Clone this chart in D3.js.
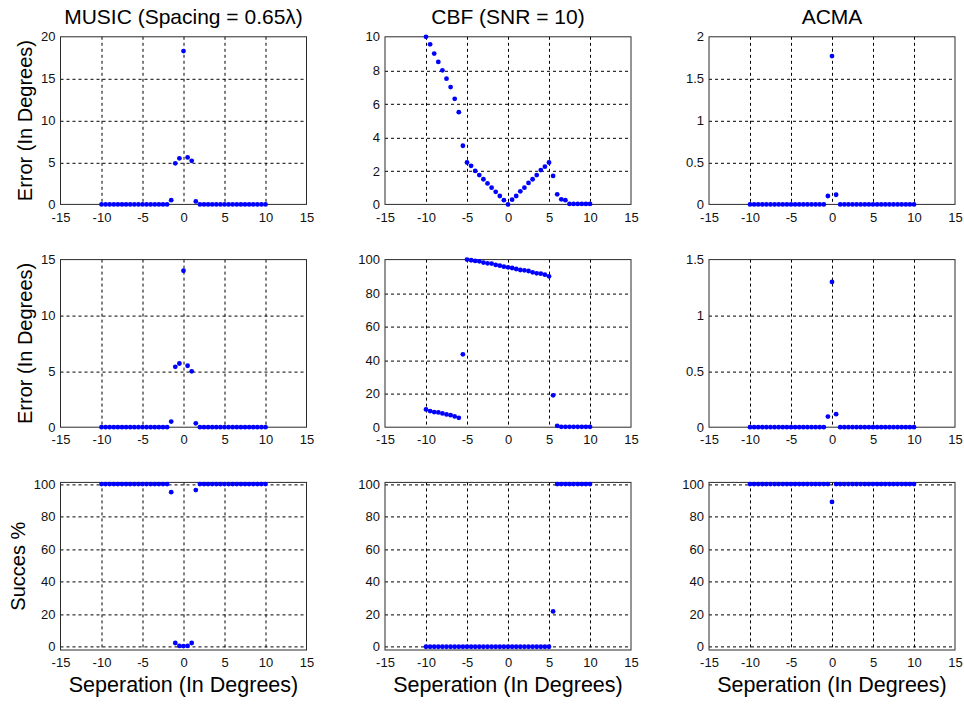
<!DOCTYPE html>
<html>
<head>
<meta charset="utf-8">
<script src="https://cdn.jsdelivr.net/npm/d3@7"></script>
<style>
  html, body { margin: 0; padding: 0; background: #ffffff; }
  svg { display: block; font-family: "Liberation Sans", Arial, Helvetica, sans-serif; }
</style>
</head>
<body>
<svg id="chart" width="964" height="704"></svg>
<script>
// ---------------- DATA ----------------
const separation = [-10, -9.5, -9, -8.5, -8, -7.5, -7, -6.5, -6, -5.5, -5, -4.5, -4, -3.5, -3, -2.5, -2, -1.5, -1, -0.5,
  0, 0.5, 1, 1.5, 2, 2.5, 3, 3.5, 4, 4.5, 5, 5.5, 6, 6.5, 7, 7.5, 8, 8.5, 9, 9.5, 10];

const musicError1 = [0,0,0,0,0,0,0,0,0,0,0,0,0,0,0,0,0, 0.5, 4.9, 5.5, 18.3, 5.6, 5.2, 0.35, 0,0,0,0,0,0,0,0,0,0,0,0,0,0,0,0,0];
const musicError2 = [0,0,0,0,0,0,0,0,0,0,0,0,0,0,0,0,0, 0.5, 5.4, 5.7, 14.0, 5.5, 5.0, 0.35, 0,0,0,0,0,0,0,0,0,0,0,0,0,0,0,0,0];
const musicSuccess = [100,100,100,100,100,100,100,100,100,100,100,100,100,100,100,100,100, 95, 2.3, 0.5, 0.4, 0.5, 2.3, 96.3,
  100,100,100,100,100,100,100,100,100,100,100,100,100,100,100,100,100];

const cbfError1 = [10.0, 9.55, 9.0, 8.5, 8.0, 7.5, 7.0, 6.3, 5.5, 3.5, 2.5, 2.3, 2.0, 1.75, 1.5, 1.25, 1.0, 0.75, 0.5, 0.25,
  0.0, 0.28, 0.5, 0.78, 1.0, 1.28, 1.5, 1.75, 2.05, 2.25, 2.5, 1.7, 0.6, 0.3, 0.25, 0.03, 0.03, 0.03, 0.03, 0.03, 0.03];
const cbfError2 = [10.6, 9.6, 9.0, 8.8, 8.2, 7.6, 7.2, 6.4, 5.6, 43.5, 100, 99.6, 99.2, 99.0, 98.2, 97.8, 97.6, 96.8, 96.4, 95.8,
  95.4, 95.0, 94.4, 93.8, 93.6, 93.2, 92.4, 91.8, 91.6, 91.0, 90.0, 19.0, 0.8, 0.2, 0.2, 0.2, 0.2, 0.2, 0.2, 0.2, 0.2];
const cbfSuccess = [0,0,0,0,0,0,0,0,0,0,0,0,0,0,0,0,0,0,0,0,0,0,0,0,0,0,0,0,0,0,0, 21.7,
  100,100,100,100,100,100,100,100,100];

const acmaError1 = [0,0,0,0,0,0,0,0,0,0,0,0,0,0,0,0,0,0,0, 0.1, 1.77, 0.115, 0,0,0,0,0,0,0,0,0,0,0,0,0,0,0,0,0,0,0];
const acmaError2 = [0,0,0,0,0,0,0,0,0,0,0,0,0,0,0,0,0,0,0, 0.095, 1.3, 0.117, 0,0,0,0,0,0,0,0,0,0,0,0,0,0,0,0,0,0,0];
const acmaSuccess = [100,100,100,100,100,100,100,100,100,100,100,100,100,100,100,100,100,100,100,100, 89,
  100,100,100,100,100,100,100,100,100,100,100,100,100,100,100,100,100,100,100,100];

const xTicks = [-15, -10, -5, 0, 5, 10, 15];
const xTickLabels = ["-15", "-10", "-5", "0", "5", "10", "15"];

const yTicksMusic1 = [0, 5, 10, 15, 20];
const yLabelsMusic1 = ["0", "5", "10", "15", "20"];
const yTicksMusic2 = [0, 5, 10, 15];
const yLabelsMusic2 = ["0", "5", "10", "15"];
const yTicksCbf1 = [0, 2, 4, 6, 8, 10];
const yLabelsCbf1 = ["0", "2", "4", "6", "8", "10"];
const yTicksPct = [0, 20, 40, 60, 80, 100];
const yLabelsPct = ["0", "20", "40", "60", "80", "100"];
const yTicksAcma1 = [0, 0.5, 1, 1.5, 2];
const yLabelsAcma1 = ["0", "0.5", "1", "1.5", "2"];
const yTicksAcma2 = [0, 0.5, 1, 1.5];
const yLabelsAcma2 = ["0", "0.5", "1", "1.5"];

const columnTitles = ["MUSIC (Spacing = 0.65\u03BB)", "CBF (SNR = 10)", "ACMA"];
const rowYLabels = ["Error (In Degrees)", "Error (In Degrees)", "Succes %"];
const xAxisLabel = "Seperation (In Degrees)";

// ---------------- LAYOUT ----------------
const colLeft = [60.5, 385, 709];
const rowTop = [36.8, 259.6, 482.4];
const plotW = 246;
const plotH = 167.6;

const panels = [
  { row: 0, col: 0, values: musicError1, domain: [0, 20], ticks: yTicksMusic1, labels: yLabelsMusic1 },
  { row: 0, col: 1, values: cbfError1, domain: [0, 10], ticks: yTicksCbf1, labels: yLabelsCbf1 },
  { row: 0, col: 2, values: acmaError1, domain: [0, 2], ticks: yTicksAcma1, labels: yLabelsAcma1 },
  { row: 1, col: 0, values: musicError2, domain: [0, 15], ticks: yTicksMusic2, labels: yLabelsMusic2 },
  { row: 1, col: 1, values: cbfError2, domain: [0, 100], ticks: yTicksPct, labels: yLabelsPct },
  { row: 1, col: 2, values: acmaError2, domain: [0, 1.5], ticks: yTicksAcma2, labels: yLabelsAcma2 },
  { row: 2, col: 0, values: musicSuccess, domain: [-2, 101], ticks: yTicksPct, labels: yLabelsPct },
  { row: 2, col: 1, values: cbfSuccess, domain: [-2, 101], ticks: yTicksPct, labels: yLabelsPct },
  { row: 2, col: 2, values: acmaSuccess, domain: [-2, 101], ticks: yTicksPct, labels: yLabelsPct }
];

const svg = d3.select("#chart");
const crisp = v => Math.round(v) + 0.5;

panels.forEach(p => {
  const left = colLeft[p.col], top = rowTop[p.row];
  const g = svg.append("g").attr("transform", `translate(${left},${top})`);
  const x = d3.scaleLinear().domain([-15, 15]).range([0, plotW]);
  const y = d3.scaleLinear().domain(p.domain).range([plotH, 0]);

  // grid
  const grid = g.append("g").attr("stroke", "#000").attr("stroke-width", 1)
    .attr("stroke-dasharray", "3,3").attr("fill", "none");
  grid.selectAll("line.vx").data(xTicks.filter(t => t > -15 && t < 15)).join("line")
    .attr("x1", d => crisp(x(d))).attr("x2", d => crisp(x(d)))
    .attr("y1", 0).attr("y2", plotH);
  grid.selectAll("line.hy").data(p.ticks.filter(t => y(t) > 1 && y(t) < plotH - 1)).join("line")
    .attr("y1", d => crisp(y(d))).attr("y2", d => crisp(y(d)))
    .attr("x1", 0).attr("x2", plotW);

  // box
  g.append("rect").attr("x", 0).attr("y", 0).attr("width", plotW).attr("height", plotH)
    .attr("fill", "none").attr("stroke", "#2b2b2b").attr("stroke-width", 1);

  // axes
  const ax = g.append("g").attr("transform", `translate(0,${plotH})`)
    .call(d3.axisBottom(x).tickValues(xTicks).tickFormat((d, i) => xTickLabels[i]).tickSize(0).tickPadding(8));
  const ay = g.append("g")
    .call(d3.axisLeft(y).tickValues(p.ticks).tickFormat((d, i) => p.labels[i]).tickSize(0).tickPadding(5));
  [ax, ay].forEach(a => {
    a.select(".domain").remove();
    a.selectAll("text").attr("font-size", 13).attr("fill", "#111")
      .attr("font-family", "\"Liberation Sans\", Arial, sans-serif");
  });

  // points
  g.append("g").selectAll("circle").data(p.values).join("circle")
    .attr("cx", (d, i) => x(separation[i]))
    .attr("cy", d => y(d))
    .attr("r", 2.4)
    .attr("fill", "#0000ff");
});

// column titles
columnTitles.forEach((t, c) => {
  svg.append("text").attr("x", colLeft[c] + plotW / 2).attr("y", 24)
    .attr("text-anchor", "middle").attr("font-size", 21).attr("fill", "#000").text(t);
});

// x axis labels
colLeft.forEach(l => {
  svg.append("text").attr("x", l + plotW / 2).attr("y", 692)
    .attr("text-anchor", "middle").attr("font-size", 21.5).attr("fill", "#000").text(xAxisLabel);
});

// y axis labels
const yLabelX = [31.5, 31.5, 25];
rowYLabels.forEach((t, r) => {
  const cy = rowTop[r] + plotH / 2;
  svg.append("text").attr("transform", `translate(${yLabelX[r]},${cy}) rotate(-90)`)
    .attr("text-anchor", "middle").attr("font-size", 20).attr("fill", "#000").text(t);
});
</script>
</body>
</html>
